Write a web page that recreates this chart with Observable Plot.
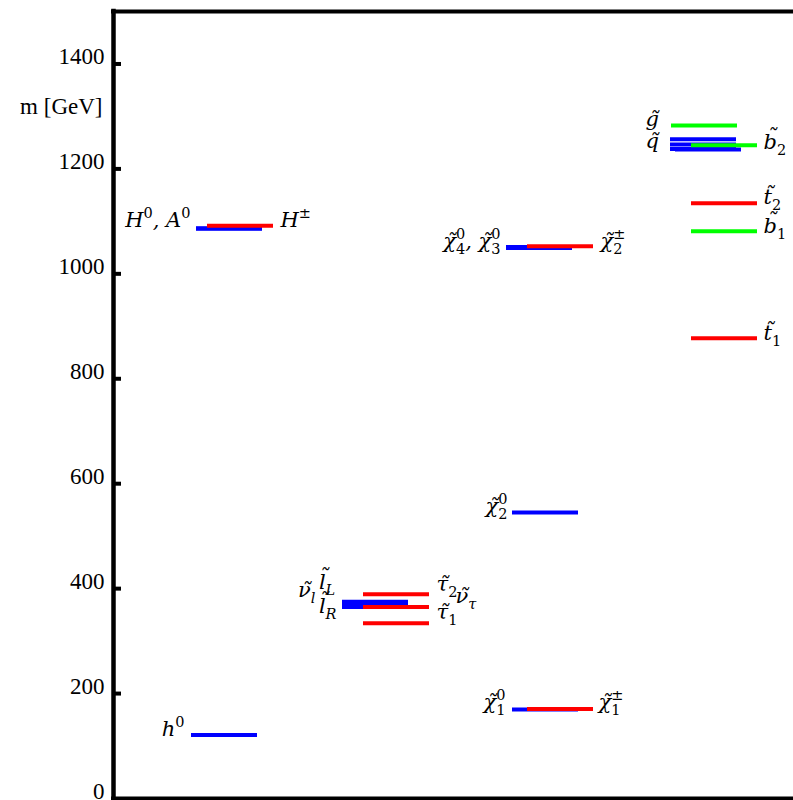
<!DOCTYPE html>
<html>
<head>
<meta charset="utf-8">
<script src="https://cdn.jsdelivr.net/npm/d3@7"></script>
<script src="https://cdn.jsdelivr.net/npm/@observablehq/plot@0.6"></script>
<style>
  body { margin: 0; background: #fff; }
  svg { display: block; }
</style>
</head>
<body>
<div id="chart"></div>
<script>
// ---- mass levels (GeV) ----
const levelNames  = ["h0","H0","A0","nu_l","l_L","l_R","chi1_0","chi2_0","chi3_0","chi4_0","q_1","q_2","q_3","q_4",
                     "Hpm","tau2","nu_tau","tau1","chi1_pm","chi2_pm","t2","t1",
                     "gluino","b2","b1"];
const levelMasses = [121, 1086, 1087, 370, 375, 365, 169.5, 545, 1049, 1051, 1256.5, 1246.5, 1238, 1237,
                     1091.5, 389.4, 365, 334, 170.5, 1052.6, 1134.5, 877.3,
                     1282.6, 1245, 1081.2];
const levelKinds  = ["n","n","n","n","n","n","n","n","n","n","n","n","n","n",
                     "c","c","c","c","c","c","c","c",
                     "s","s","s"];
// horizontal start of each level line (plot units)
const levelStarts = [78, 83, 83, 229, 229, 229, 399, 399, 393, 393, 557, 557, 557, 562,
                     94, 250, 250, 250, 414, 414, 578, 578,
                     558, 578, 578];
const levelLength = 66;

// ---- axis ----
const tickValues = [0, 200, 400, 600, 800, 1000, 1200, 1400];
const axisTitle = "m [GeV]";

// ---- labels ----
const labelTexts  = ["h^{0}", "H^{0}, A^{0}", "H^{±}",
                     "~ν_{l}", "~l_{L}", "~l_{R}", "~τ_{2}", "~ν_{τ}", "~τ_{1}",
                     "~χ_{4}^{0}, ~χ_{3}^{0}", "~χ_{2}^{±}", "~χ_{2}^{0}", "~χ_{1}^{0}", "~χ_{1}^{±}",
                     "~g", "~q", "~b_{2}", "~t_{2}", "~b_{1}", "~t_{1}"];
const labelX      = [71, 77, 167, 202, 205, 205, 323, 342, 323, 387, 487, 394, 392, 485, 532, 532, 650, 650, 650, 650];
const labelY      = [120, 1089, 1089, 384, 400, 353, 396, 373.5, 343, 1050, 1050, 545, 171, 171, 1282.6, 1240.7, 1238.8, 1134, 1078, 874.8];
const labelAnchor = ["end","end","start","end","start","start","start","start","start",
                     "end","start","end","end","start","start","start","start","start","start","start"];

const levels = levelNames.map((name, i) => ({
  name, mass: levelMasses[i], kind: levelKinds[i],
  x1: levelStarts[i], x2: levelStarts[i] + levelLength
}));
const labels = labelTexts.map((t, i) => ({text: t, x: labelX[i], y: labelY[i], anchor: labelAnchor[i]}));

const LABEL_FONT = "'DejaVu Serif', serif";

const chart = Plot.plot({
  width: 793,
  height: 800,
  marginLeft: 113,
  marginRight: 0,
  marginTop: 11,
  marginBottom: 2,
  x: {domain: [0, 680], axis: null},
  y: {domain: [0, 1500], axis: null},
  color: {domain: ["n", "c", "s"], range: ["#0000ff", "#ff0000", "#00ff00"]},
  style: {fontFamily: "'Liberation Serif', serif", fontSize: "23px", background: "#fff", overflow: "visible", color: "#000"},
  marks: [
    // level lines
    Plot.ruleY(levels, {y: "mass", x1: "x1", x2: "x2", stroke: "kind", strokeWidth: 4}),
    // frame
    Plot.ruleX([0], {y1: 0, y2: 1500, stroke: "#000", strokeWidth: 4.5, strokeLinecap: "square"}),
    Plot.ruleY([0, 1500], {x1: 0, x2: 700, stroke: "#000", strokeWidth: 4, strokeLinecap: "square"}),
    // inner ticks
    Plot.ruleY(tickValues.filter(v => v > 0), {y: d => d, x1: 0, x2: 8, stroke: "#000", strokeWidth: 4}),
    // tick labels
    Plot.text(tickValues, {x: -9, y: d => d, text: d => String(d), textAnchor: "end", lineAnchor: "bottom", fontSize: 23}),
    Plot.text([axisTitle], {x: -11, y: 1305, text: d => d, textAnchor: "end", lineAnchor: "bottom", fontSize: 23}),
    // particle labels
    Plot.text(labels.filter(d => d.anchor === "end"), {x: "x", y: "y", text: "text", textAnchor: "end", lineAnchor: "bottom", fontSize: 21, fontStyle: "italic", fontFamily: LABEL_FONT}),
    Plot.text(labels.filter(d => d.anchor === "start"), {x: "x", y: "y", text: "text", textAnchor: "start", lineAnchor: "bottom", fontSize: 21, fontStyle: "italic", fontFamily: LABEL_FONT})
  ]
});
document.getElementById("chart").append(chart);

// ---- typeset mini-markup (~x tilde accent, _{} subscript, ^{} superscript) into tspans ----
const NS = "http://www.w3.org/2000/svg";
const SUB = 6, SUP = -9, SMALL = 14.5;
// how far the tilde is raised above its default accent height, per base letter
const TILDE_RAISE = {l: -6, b: -6, t: -3};
function typeset(el) {
  const src = el.textContent;
  el.textContent = "";
  const toks = [];
  let i = 0, buf = "";
  const flush = () => { if (buf) { toks.push({t: "n", s: buf}); buf = ""; } };
  while (i < src.length) {
    const c = src[i];
    if ((c === "_" || c === "^") && src[i + 1] === "{") {
      flush();
      const j = src.indexOf("}", i);
      toks.push({t: c, s: src.slice(i + 2, j)});
      i = j + 1;
    } else if (c === "~") {
      flush();
      toks.push({t: "~", s: src[i + 1]});
      i += 2;
    } else { buf += c; i++; }
  }
  flush();
  let shift = 0, pendingDx = 0;
  const add = (s, small, target, dx) => {
    const ts = document.createElementNS(NS, "tspan");
    ts.textContent = s;
    const dy = target - shift;
    if (dy) ts.setAttribute("dy", dy);
    const ddx = (dx || 0) + pendingDx;
    if (ddx) ts.setAttribute("dx", ddx);
    pendingDx = 0;
    if (small) {
      ts.setAttribute("font-size", SMALL);
      if (/^[0-9±]+$/.test(s)) ts.setAttribute("font-style", "normal");
    }
    el.appendChild(ts);
    shift = target;
    return ts;
  };
  let k = 0;
  while (k < toks.length) {
    const tok = toks[k];
    if (tok.t === "n") { add(tok.s, false, 0); k++; continue; }
    if (tok.t === "~") {
      const base = add(tok.s, false, 0);
      const wb = base.getComputedTextLength();
      const til = add("\u02DC", false, TILDE_RAISE[tok.s] || 0);
      const wt = til.getComputedTextLength();
      const slant = 1.5;
      til.setAttribute("dx", -(wb + wt) / 2 + slant);
      pendingDx = (wb - wt) / 2 - slant;
      k++;
      continue;
    }
    const next = toks[k + 1];
    if (next && (next.t === "_" || next.t === "^") && next.t !== tok.t) {
      const sub = tok.t === "_" ? tok : next;
      const sup = tok.t === "_" ? next : tok;
      const a = add(sub.s, true, SUB);
      const w1 = a.getComputedTextLength();
      const b = add(sup.s, true, SUP, -w1);
      const w2 = b.getComputedTextLength();
      pendingDx = Math.max(0, w1 - w2);
      k += 2;
    } else {
      add(tok.s, true, tok.t === "_" ? SUB : SUP);
      k++;
    }
  }
}
chart.querySelectorAll("text").forEach(el => {
  if (/[~_^]/.test(el.textContent)) typeset(el);
});
</script>
</body>
</html>
